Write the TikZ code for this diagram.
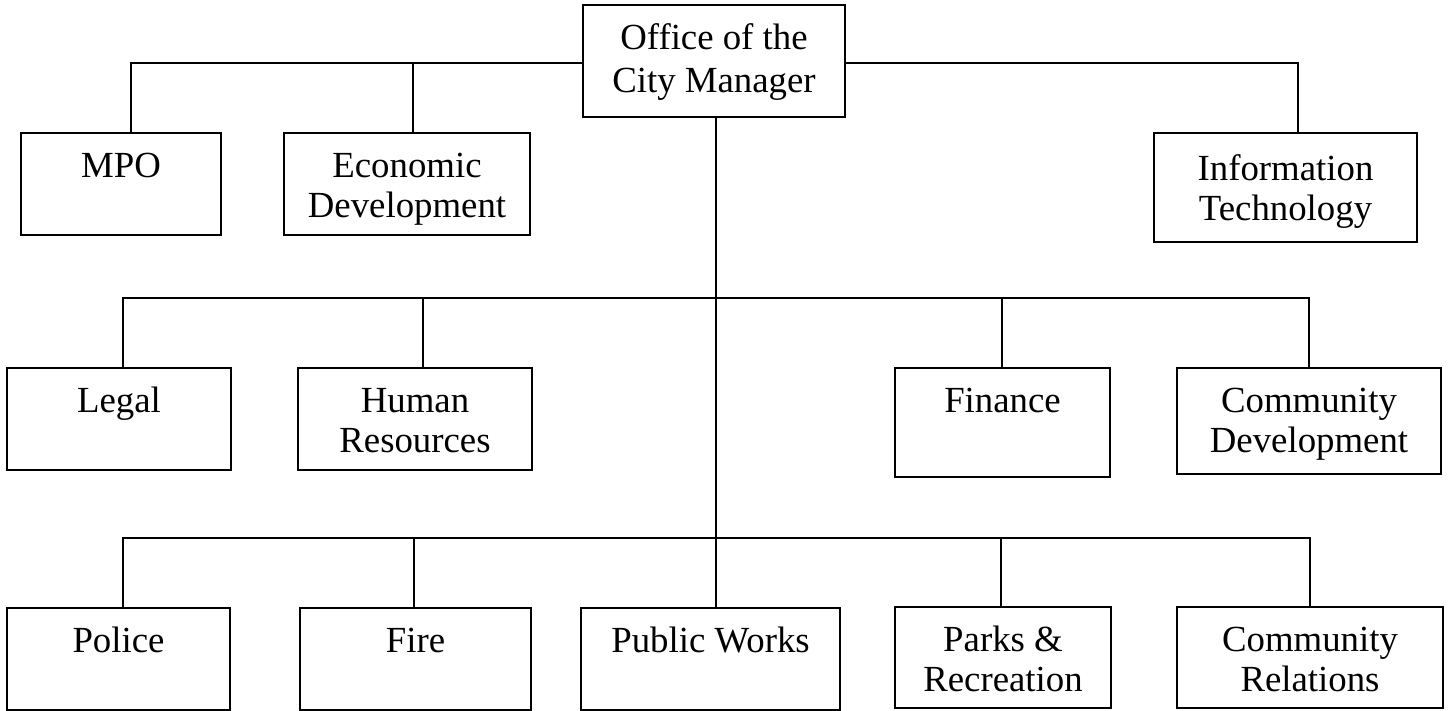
\documentclass[tikz,border=0pt]{standalone}
\usepackage{fontspec}
\setmainfont{Liberation Serif}
\usetikzlibrary{fit,calc}
\tikzset{
  box/.style={draw, line width=1.1pt, inner sep=0pt, rectangle},
  conn/.style={draw, line width=1pt},
  lbl/.style={inner sep=0pt, align=center, font=\fontsize{18.4}{20}\selectfont},
}
% [baseline offset px] name x1 y1 x2 y2 text
\newcommand\obox[7][45]{%
  \node[box, fit={(#3,#4) (#5,#6)}] (#2) {};
  \node[lbl, anchor=north] (#2-t) at ([yshift={-(#1-28)*0.5pt}]#2.north) {#7};
}
\begin{document}
\begin{tikzpicture}[x=0.5pt,y=-0.5pt]
\useasboundingbox (0,0) rectangle (1452,711);

% bus levels
\coordinate (topbus) at (0,63);
\coordinate (midbus) at (0,298);
\coordinate (lowbus) at (0,538);

% top
\node[box, fit={(583,5) (845,117)}] (office) {};
\node[lbl, font=\fontsize{18.4}{21.5}\selectfont, anchor=north] (office-t)
  at ([yshift=-7.5pt]office.north) {\strut Office of the\\\strut City Manager};

\obox{mpo}{21}{133}{221}{235}{\strut MPO}
\obox{econ}{284}{133}{530}{235}{\strut Economic\\\strut Development}
\obox[48]{it}{1154}{133}{1417}{242}{\strut Information\\\strut Technology}

% middle row
\obox{legal}{7}{368}{231}{470}{\strut Legal}
\obox{hr}{298}{368}{532}{470}{\strut Human\\\strut Resources}
\obox{fin}{895}{368}{1110}{477}{\strut Finance}
\obox{cdev}{1177}{368}{1441}{474}{\strut Community\\\strut Development}

% bottom row
\obox{police}{7}{608}{230}{710}{\strut Police}
\obox{fire}{300}{608}{531}{710}{\strut Fire}
\obox{pw}{581}{608}{840}{710}{\strut Public Works}
\obox{parks}{895}{607}{1111}{708}{\strut Parks \&\\\strut Recreation}
\obox{crel}{1177}{607}{1443}{708}{\strut Community\\\strut Relations}

% connectors, top level
\draw[conn] (office.west |- topbus) -| ([xshift=5pt]mpo.north);
\draw[conn] ([xshift=3pt]econ.north) -- ([xshift=3pt]econ.north |- topbus);
\draw[conn] (office.east |- topbus) -| ([xshift=6pt]it.north);

% trunk
\draw[conn] ([xshift=1pt]office.south) -- ([xshift=1pt]office.south |- pw.north);

% middle bus
\draw[conn] ([xshift=2pt]legal.north) |- (cdev.north |- midbus) -- (cdev.north);
\draw[conn] ([xshift=4pt]hr.north) -- ([xshift=4pt]hr.north |- midbus);
\draw[conn] ([xshift=-0.5pt]fin.north) -- ([xshift=-0.5pt]fin.north |- midbus);

% lower bus
\draw[conn] ([xshift=2pt]police.north) |- (crel.north |- lowbus) -- (crel.north);
\draw[conn] ([xshift=-1pt]fire.north) -- ([xshift=-1pt]fire.north |- lowbus);
\draw[conn] ([xshift=-1pt]parks.north) -- ([xshift=-1pt]parks.north |- lowbus);
\end{tikzpicture}
\end{document}
